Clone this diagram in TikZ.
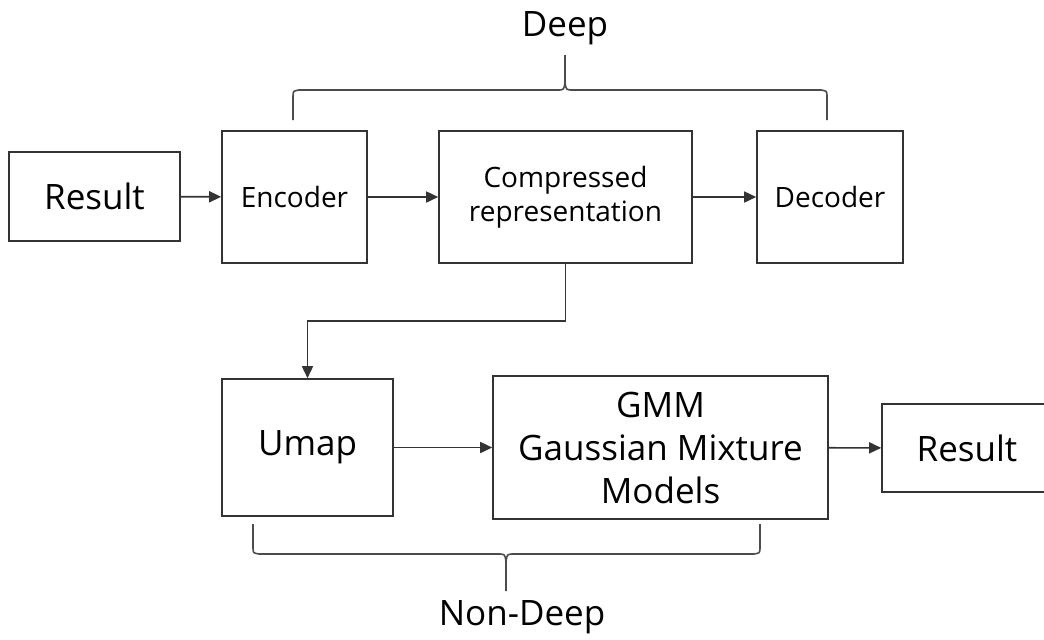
\documentclass[tikz,border=0pt]{standalone}
\usepackage{fontspec}
\setmainfont{Open Sans}
\usetikzlibrary{arrows.meta}

\begin{document}
\begin{tikzpicture}[x=0.5pt, y=-0.5pt,
    box/.style={draw=black!80, line width=0.8pt, inner sep=0pt, align=center},
    big/.style={font=\fontsize{17.5}{21.5}\selectfont},
    small/.style={font=\fontsize{14}{17}\selectfont},
    arr/.style={-{Triangle[length=6pt,width=5.5pt]}, draw=black!80, line width=0.8pt},
    brace/.style={draw=black!70, line width=0.8pt}]
  \clip (0,0) rectangle (1044,639);
  % upper row
  \node[box, big, minimum width=85.5pt, minimum height=44.5pt] (res1) at (94.5,196.5) {Result};
  \node[box, small, minimum width=72.5pt, minimum height=66pt] (enc) at (294.5,197) {Encoder};
  \node[box, small, minimum width=126.5pt, minimum height=66pt] (comp) at (565.5,197) {Compressed\\representation};
  \node[box, small, minimum width=73pt, minimum height=66pt] (dec) at (830,197) {Decoder};
  % lower row
  \node[box, big, minimum width=85.5pt, minimum height=68.5pt] (umap) at (307.5,447.5) {Umap};
  \node[box, big, minimum width=167.5pt, minimum height=71.5pt] (gmm) at (660.5,447.5) {GMM\\Gaussian Mixture\\Models};
  \node[box, big, minimum width=85pt, minimum height=44pt] (res2) at (967,448) {Result};
  % labels
  \node[big] (deep) at (565,28) {Deep};
  \node[big] (nondeep) at (522,617) {Non-Deep};
  \coordinate (bend) at (307.5,321);
  \draw[arr] (res1) -- (enc);
  \draw[arr] (enc) -- (comp);
  \draw[arr] (comp) -- (dec);
  \draw[arr] (comp.south) |- (bend) -- (umap.north);
  \draw[arr] (umap) -- (gmm);
  \draw[arr] (gmm) -- (res2);
  % braces
  \draw[brace] (293,120) -- (293,97) .. controls (293,91) .. (299,90) -- (557,90) .. controls (564,90) .. (565,82) -- (565,55);
  \draw[brace] (827,120) -- (827,97) .. controls (827,91) .. (821,90) -- (573,90) .. controls (566,90) .. (565,82);
  \draw[brace] (253,524) -- (253,547) .. controls (253,553) .. (259,554) -- (498,554) .. controls (505,554) .. (506,562) -- (506,591);
  \draw[brace] (760,524) -- (760,547) .. controls (760,553) .. (754,554) -- (514,554) .. controls (507,554) .. (506,562);
\end{tikzpicture}
\end{document}
